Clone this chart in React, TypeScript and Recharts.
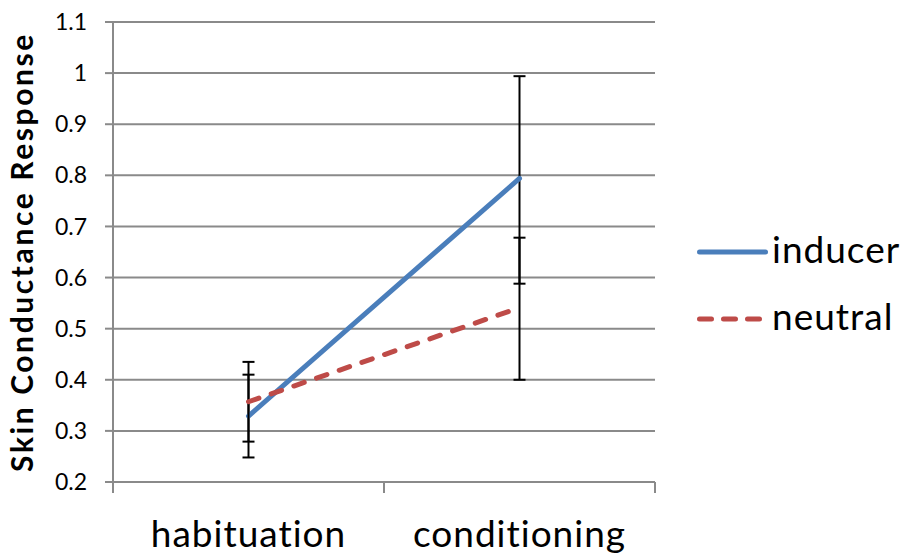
import React from 'react';
import { LineChart, Line, XAxis, YAxis, CartesianGrid, ErrorBar } from 'recharts';

// --- data ---
const phases = ['habituation', 'conditioning'];
const inducer = [0.329, 0.794];
const inducerErr = [[0.081, 0.081], [0.206, 0.2]]; // [below, above]
const neutral = [0.357, 0.541];
const neutralErr = [[0.078, 0.078], [0.141, 0.137]];
const yTicks = [0.2, 0.3, 0.4, 0.5, 0.6, 0.7, 0.8, 0.9, 1, 1.1];

const FONT = 'Lato, "Open Sans", sans-serif';
const GRID = '#8a8a8a';

const SERIES = [
  { key: 'inducer', label: 'inducer', color: '#4a7ebb', dash: undefined as string | undefined },
  { key: 'neutral', label: 'neutral', color: '#be4b48', dash: '11 13' },
];

// one row per phase; x sits mid-way between the category tick marks
const chartData = phases.map((name, i) => ({
  name,
  x: i + 0.5,
  inducer: inducer[i],
  inducerErr: inducerErr[i],
  neutral: neutral[i],
  neutralErr: neutralErr[i],
}));

const xTicks = [0, 0.5, 1, 1.5, 2];

// integer ticks -> boundary tick marks, half ticks -> category labels
const PhaseTick = (props: any) => {
  const { x, y, payload } = props;
  const v = payload.value;
  if (Number.isInteger(v)) {
    return <line x1={x} y1={y} x2={x} y2={y + 11} stroke={GRID} strokeWidth={2} />;
  }
  return (
    <text
      x={x}
      y={y + 65}
      textAnchor="middle"
      fontSize={37}
      letterSpacing={1}
      fontFamily={FONT}
      fill="#000"
    >
      {phases[Math.floor(v)]}
    </text>
  );
};

const YTitle = (props: any) => {
  const { viewBox } = props;
  const cy = viewBox.y + viewBox.height / 2;
  const cx = 33;
  return (
    <text
      x={cx}
      y={cy}
      transform={`rotate(-90 ${cx} ${cy})`}
      textAnchor="middle"
      fontSize={30}
      letterSpacing={2.6}
      fontWeight={700}
      fontFamily={FONT}
      fill="#000"
    >
      Skin Conductance Response
    </text>
  );
};

const LegendBox = () => (
  <svg width={218} height={130} style={{ position: 'absolute', left: 688, top: 222 }}>
    {SERIES.map((s, i) => {
      const y = 30 + i * 67;
      return (
        <g key={s.key}>
          <line
            x1={11.5}
            y1={y}
            x2={s.dash ? 72 : 77.5}
            y2={y}
            stroke={s.color}
            strokeWidth={5}
            strokeLinecap="round"
            strokeDasharray={s.dash ? '12 12' : undefined}
          />
          <text x={84} y={y + 11} fontSize={37} letterSpacing={1} fontFamily={FONT} fill="#000">
            {s.label}
          </text>
        </g>
      );
    })}
  </svg>
);

export default function App() {
  return (
    <div style={{ position: 'absolute', left: 0, top: 0, width: 908, height: 555, background: '#fff' }}>
      <LineChart
        width={908}
        height={555}
        data={chartData}
        margin={{ top: 22, right: 253, bottom: 0, left: 0 }}
      >
        <CartesianGrid vertical={false} stroke={GRID} strokeWidth={2} />
        <XAxis
          dataKey="x"
          type="number"
          domain={[0, 2]}
          ticks={xTicks}
          interval={0}
          height={73}
          tickLine={false}
          tickSize={0}
          tickMargin={0}
          axisLine={{ stroke: GRID, strokeWidth: 2 }}
          tick={<PhaseTick />}
        />
        <YAxis
          type="number"
          domain={[0.2, 1.1]}
          ticks={yTicks}
          interval={0}
          width={113}
          tickSize={8}
          tickMargin={18}
          tickLine={{ stroke: GRID, strokeWidth: 2 }}
          axisLine={{ stroke: GRID, strokeWidth: 2 }}
          tick={{ fontSize: 23, fontFamily: FONT, fill: '#000' }}
          tickFormatter={(v: number) => String(v)}
          label={<YTitle />}
        />
        {SERIES.map((s) => (
          <Line
            key={s.key}
            dataKey={s.key}
            type="linear"
            stroke={s.color}
            strokeWidth={5}
            strokeDasharray={s.dash}
            strokeLinecap="round"
            dot={false}
            activeDot={false}
            isAnimationActive={false}
          >
            <ErrorBar dataKey={`${s.key}Err`} width={6} stroke="#000" strokeWidth={2} direction="y" />
          </Line>
        ))}
      </LineChart>
      <LegendBox />
    </div>
  );
}
